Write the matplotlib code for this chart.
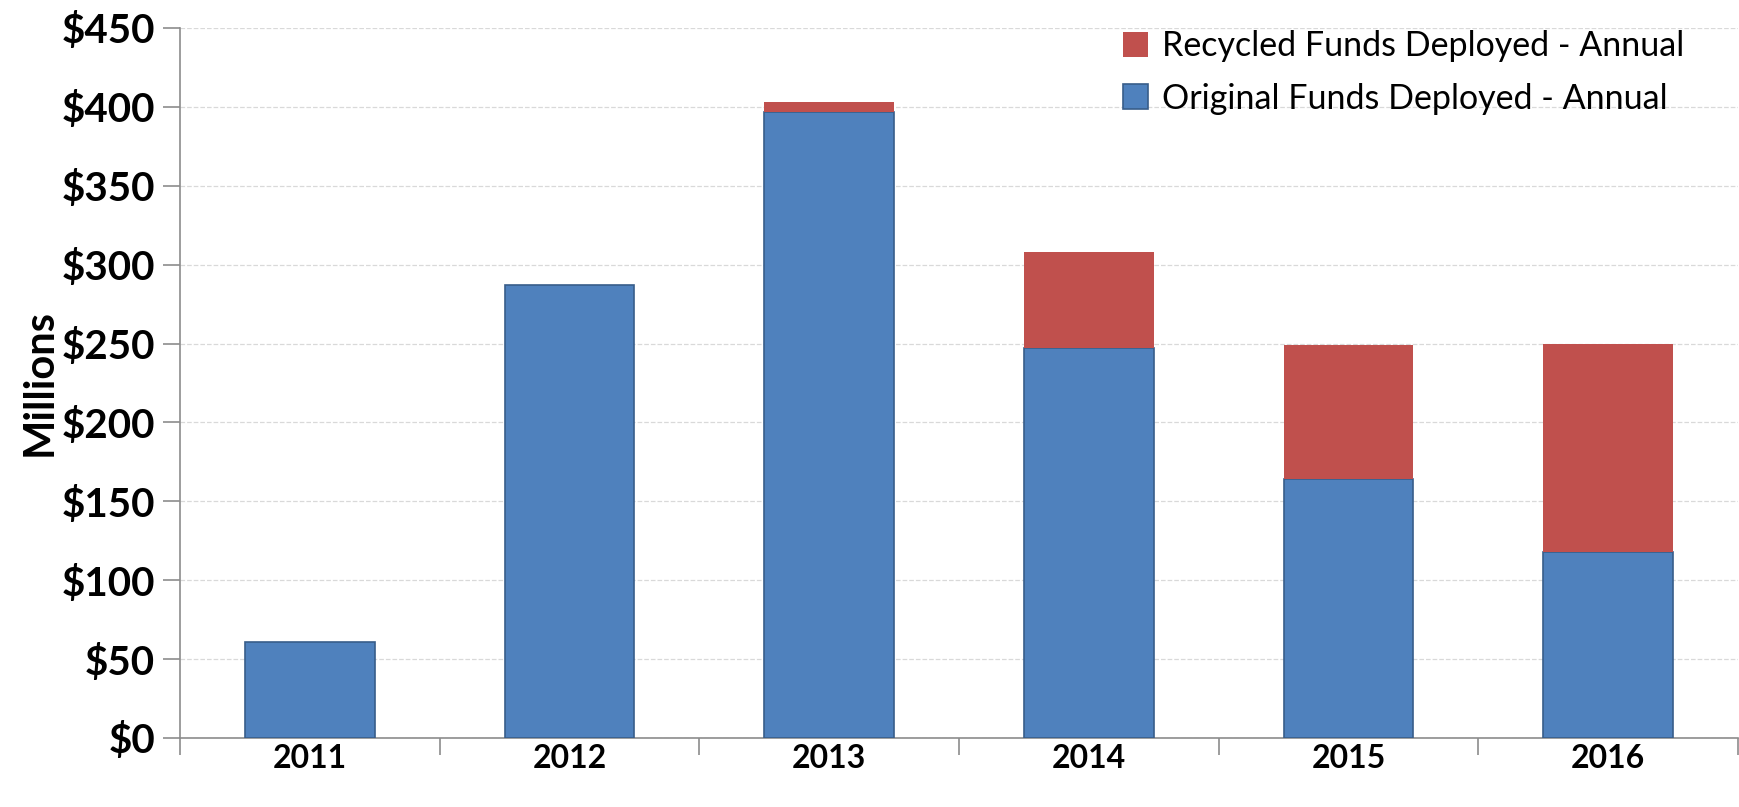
import numpy as np
import matplotlib.pyplot as plt
from matplotlib.ticker import FuncFormatter

years = ['2011', '2012', '2013', '2014', '2015', '2016']
original_funds = [61, 287, 397, 247.5, 164, 118]
recycled_funds = [0, 0, 6, 60.5, 85, 131.5]

plt.rcParams['font.family'] = ['Lato', 'DejaVu Sans']

fig = plt.figure(figsize=(17.39, 8.07), dpi=100)
ax = fig.add_axes([180 / 1739, 69 / 807, 1558 / 1739, 710 / 807])

x = np.arange(len(years))
ax.bar(x, original_funds, width=0.5, color='#4F81BD', edgecolor='#385D8A',
       linewidth=1.2, label='Original Funds Deployed - Annual', zorder=3)
ax.bar(x, recycled_funds, width=0.5, bottom=original_funds, color='#C0504D',
       edgecolor='none', label='Recycled Funds Deployed - Annual', zorder=3)

ax.set_xlim(-0.5, len(years) - 0.5)
ax.set_ylim(0, 450)
ax.set_yticks(np.arange(0, 451, 50))
ax.yaxis.set_major_formatter(FuncFormatter(lambda v, p: f'${v:.0f}'))
ax.grid(axis='y', color='#D9D9D9', linestyle='--', linewidth=0.9, zorder=0)

ax.set_xticks(x)
ax.set_xticklabels(years)
ax.set_xticks(np.arange(-0.5, len(years)), minor=True)
ax.tick_params(axis='x', which='major', length=0, pad=4, labelsize=23)
ax.tick_params(axis='x', which='minor', length=12, width=1.2, color='#8C8C8C', direction='out')
ax.tick_params(axis='y', length=12, width=1.2, color='#8C8C8C', direction='out', pad=6, labelsize=29)
for lab in ax.get_xticklabels() + ax.get_yticklabels():
    lab.set_fontweight('bold')

for side in ['top', 'right']:
    ax.spines[side].set_visible(False)
for side in ['left', 'bottom']:
    ax.spines[side].set_color('#8C8C8C')
    ax.spines[side].set_linewidth(1.2)

ax.set_ylabel('Millions', fontsize=30, fontweight='bold', labelpad=2)

handles, labels = ax.get_legend_handles_labels()
ax.legend(handles[::-1], labels[::-1], loc='upper right', bbox_to_anchor=(0.985, 1.04),
          frameon=False, fontsize=24.5, handlelength=0.75, handleheight=0.75,
          handletextpad=0.4, labelspacing=0.6)

fig.savefig('out.png', dpi=100)
